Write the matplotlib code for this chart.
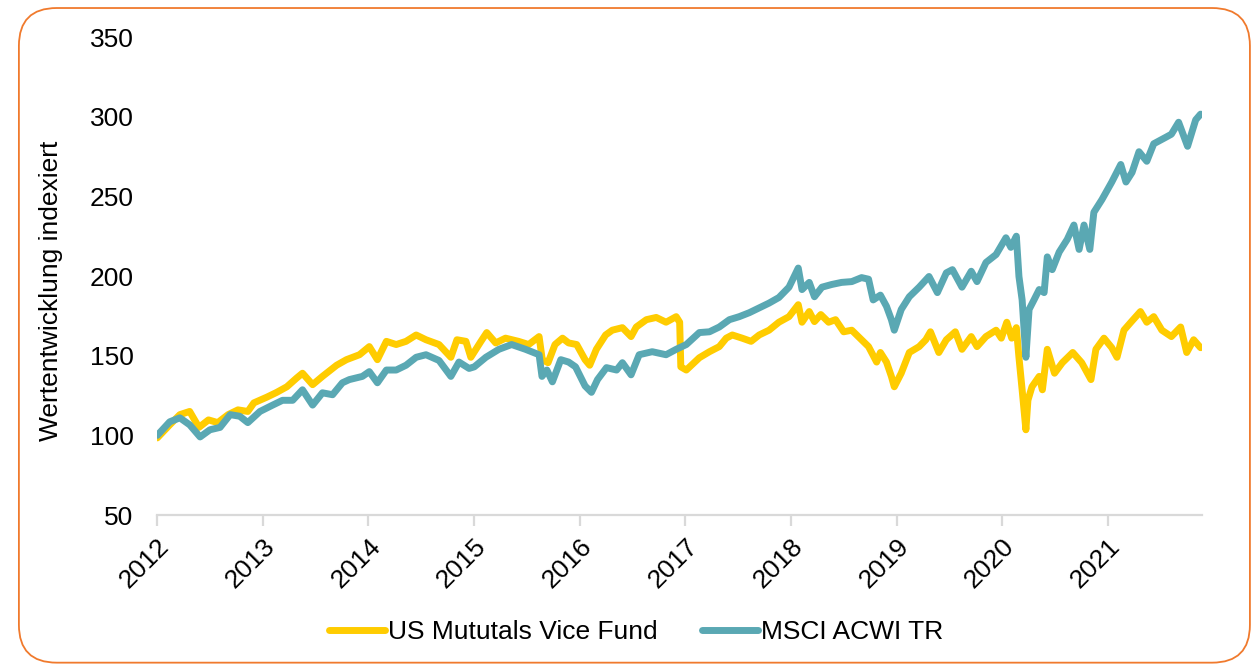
import matplotlib.pyplot as plt
import matplotlib.dates as mdates
from matplotlib.patches import FancyBboxPatch
import pandas as pd

plt.rcParams['font.family'] = ['Liberation Sans', 'DejaVu Sans']

# US Mutuals Vice Fund, indexed
fund_dates = [
    "2012-01-02", "2012-02-14", "2012-03-20", "2012-04-23", "2012-05-25", "2012-06-27",
    "2012-07-29", "2012-09-03", "2012-10-07", "2012-11-10", "2012-12-01", "2013-01-15",
    "2013-02-18", "2013-03-25", "2013-04-28", "2013-05-18", "2013-06-22", "2013-07-26",
    "2013-09-13", "2013-10-17", "2013-12-01", "2014-01-04", "2014-02-01", "2014-03-04",
    "2014-04-07", "2014-05-11", "2014-06-15", "2014-07-19", "2014-09-02", "2014-10-13",
    "2014-11-03", "2014-12-04", "2014-12-21", "2015-01-25", "2015-02-14", "2015-03-17",
    "2015-04-20", "2015-06-04", "2015-07-09", "2015-08-14", "2015-08-25", "2015-09-14",
    "2015-10-08", "2015-11-03", "2015-11-24", "2015-12-22", "2016-01-20", "2016-02-05",
    "2016-02-28", "2016-03-31", "2016-04-23", "2016-05-28", "2016-06-27", "2016-07-15",
    "2016-08-19", "2016-09-22", "2016-10-26", "2016-11-30", "2016-12-12", "2016-12-16",
    "2017-01-04", "2017-02-18", "2017-03-25", "2017-04-28", "2017-05-22", "2017-06-12",
    "2017-07-16", "2017-08-16", "2017-09-13", "2017-10-17", "2017-11-20", "2017-12-25",
    "2018-01-26", "2018-02-08", "2018-03-05", "2018-03-23", "2018-04-14", "2018-05-11",
    "2018-06-04", "2018-07-02", "2018-07-30", "2018-09-02", "2018-09-26", "2018-10-24",
    "2018-11-06", "2018-11-27", "2018-12-14", "2018-12-24", "2019-01-17", "2019-02-14",
    "2019-03-20", "2019-04-12", "2019-04-28", "2019-05-27", "2019-06-22", "2019-07-23",
    "2019-08-15", "2019-09-16", "2019-10-06", "2019-11-06", "2019-12-11", "2019-12-29",
    "2020-01-17", "2020-02-03", "2020-02-19", "2020-02-28", "2020-03-10", "2020-03-23",
    "2020-03-30", "2020-04-13", "2020-05-08", "2020-05-19", "2020-06-05", "2020-06-30",
    "2020-07-27", "2020-09-01", "2020-10-02", "2020-11-03", "2020-11-20", "2020-12-18",
    "2021-01-14", "2021-02-01", "2021-02-25", "2021-03-21", "2021-04-23", "2021-05-15",
    "2021-06-08", "2021-07-06", "2021-08-08", "2021-09-09", "2021-09-30", "2021-10-24",
    "2021-11-17",
]
fund_values = [
    98.4, 106.6, 113, 115, 105, 109.7,
    108, 113, 116, 115, 120.4, 124,
    127, 130.5, 136, 139, 131.8, 137,
    144, 147.5, 150.6, 155.7, 147.5, 159,
    157, 159, 163, 160, 157, 149,
    160, 159, 149, 159, 164.5, 158,
    161, 159, 157, 162, 147.5, 145.6,
    157, 161, 158, 157, 147.5, 144,
    154, 163, 166, 167.6, 162, 168,
    172.6, 174, 171, 174.5, 171, 143,
    141, 148.7, 152.5, 155.7, 161, 163,
    161, 159, 163, 166, 171, 174.5,
    182, 171, 177.7, 171.4, 175.8, 171,
    172.6, 165, 166, 160, 155.7, 146,
    152, 146, 137, 130.5, 139, 152,
    155.7, 160, 165, 152, 160, 165,
    154, 162, 155.7, 162, 166, 161,
    171, 161, 167.6, 149, 128.6, 103.5,
    122, 130.5, 137, 128.6, 154, 139,
    145.6, 152, 145.6, 135, 154, 161,
    155, 149, 166, 171, 177.7, 171,
    174.5, 166, 162, 168, 152, 160,
    155,
]

# MSCI ACWI TR, indexed
msci_dates = [
    "2012-01-02", "2012-02-14", "2012-03-20", "2012-04-23", "2012-05-29", "2012-07-02",
    "2012-08-06", "2012-09-10", "2012-10-13", "2012-11-10", "2012-12-22", "2013-02-04",
    "2013-03-10", "2013-04-14", "2013-05-18", "2013-06-22", "2013-07-26", "2013-08-30",
    "2013-10-03", "2013-10-27", "2013-12-11", "2014-01-04", "2014-02-01", "2014-03-04",
    "2014-04-07", "2014-05-11", "2014-06-15", "2014-07-19", "2014-09-02", "2014-10-13",
    "2014-11-10", "2014-12-15", "2015-01-02", "2015-02-11", "2015-03-28", "2015-05-11",
    "2015-06-28", "2015-08-14", "2015-08-24", "2015-09-10", "2015-09-29", "2015-10-28",
    "2015-11-24", "2015-12-18", "2016-01-20", "2016-02-11", "2016-03-03", "2016-04-03",
    "2016-05-08", "2016-05-28", "2016-06-27", "2016-07-25", "2016-09-08", "2016-10-26",
    "2016-11-30", "2017-01-04", "2017-02-18", "2017-03-25", "2017-04-28", "2017-06-02",
    "2017-07-06", "2017-08-10", "2017-09-13", "2017-10-17", "2017-11-20", "2017-12-25",
    "2018-01-26", "2018-02-08", "2018-03-05", "2018-03-23", "2018-04-18", "2018-05-22",
    "2018-06-25", "2018-07-30", "2018-09-02", "2018-09-26", "2018-10-12", "2018-11-06",
    "2018-11-27", "2018-12-14", "2018-12-24", "2019-01-17", "2019-02-14", "2019-03-20",
    "2019-04-23", "2019-05-22", "2019-06-22", "2019-07-13", "2019-08-15", "2019-09-16",
    "2019-10-06", "2019-11-06", "2019-12-11", "2020-01-14", "2020-01-31", "2020-02-19",
    "2020-02-28", "2020-03-10", "2020-03-23", "2020-04-03", "2020-04-20", "2020-05-08",
    "2020-05-25", "2020-06-05", "2020-06-22", "2020-07-16", "2020-08-13", "2020-09-05",
    "2020-09-23", "2020-10-10", "2020-10-30", "2020-11-13", "2020-12-11", "2021-01-14",
    "2021-02-14", "2021-03-04", "2021-03-25", "2021-04-18", "2021-05-15", "2021-06-08",
    "2021-07-19", "2021-08-08", "2021-09-02", "2021-10-03", "2021-10-31", "2021-11-17",
]
msci_values = [
    100, 108.5, 111, 106.6, 99, 103.5,
    105, 113, 112, 108, 115, 119,
    122, 122, 128.6, 119, 126.7, 125.5,
    133, 135, 137, 140, 133, 141,
    141, 144, 149, 150.6, 147, 137,
    146, 142, 143, 149, 154, 157,
    154, 150.6, 137, 141, 133.6, 147.5,
    146, 143, 131, 127, 135, 142.5,
    141, 145.6, 138, 150.6, 152.5, 150.6,
    154, 157, 164.5, 165, 168, 172.6,
    174.5, 177, 180, 183, 186.5, 193,
    205, 191.5, 196, 187, 193, 194.7,
    196, 196.5, 199, 198, 185, 188,
    181, 172.6, 166, 179, 187, 193,
    199.7, 189.6, 202, 204, 193, 203,
    196.5, 208.5, 213.5, 224, 218, 225,
    199.7, 185, 149, 179, 185, 191.5,
    189.6, 212, 204, 215, 223, 232,
    216.7, 232, 216.7, 240, 248, 259,
    270, 259, 265, 278, 272, 283,
    287, 289, 296.5, 281.4, 298, 301.6,
]

year_ticks = [str(y) for y in range(2012, 2022)]

fig = plt.figure(figsize=(12.6, 6.68), dpi=100)

# rounded orange frame around the chart
frame = FancyBboxPatch((0.015, 0.008), 0.977, 0.98, boxstyle="round,pad=0,rounding_size=0.03",
                       transform=fig.transFigure, facecolor='none', edgecolor='#F07A2D',
                       linewidth=1.3, mutation_aspect=1260 / 668, zorder=-1)
fig.patches.append(frame)

ax = fig.add_axes([0.1246, 0.229, 0.8294, 0.7156])
ax.set_facecolor('none')

ax.plot(pd.to_datetime(fund_dates), fund_values, color='#FFCC00', linewidth=5,
        solid_joinstyle='round', solid_capstyle='round', label='US Mututals Vice Fund')
ax.plot(pd.to_datetime(msci_dates), msci_values, color='#5AA8B3', linewidth=5,
        solid_joinstyle='round', solid_capstyle='round', label='MSCI ACWI TR')

ax.set_ylim(50, 350)
ax.set_yticks(range(50, 351, 50))
ax.set_xlim(pd.Timestamp('2012-01-01'), pd.Timestamp('2021-11-22'))
ax.set_xticks(pd.to_datetime([y + '-01-01' for y in year_ticks]))
ax.xaxis.set_major_formatter(mdates.DateFormatter('%Y'))

for side in ['left', 'right', 'top']:
    ax.spines[side].set_visible(False)
ax.spines['bottom'].set_color('#D9D9D9')
ax.spines['bottom'].set_linewidth(1.6)

ax.tick_params(axis='y', length=0, pad=17, labelsize=19)
ax.tick_params(axis='x', length=8, width=1.6, color='#D9D9D9', pad=6, labelsize=19)
for lbl in ax.get_xticklabels():
    lbl.set_rotation(45)
    lbl.set_ha('right')
    lbl.set_rotation_mode('anchor')

ax.set_ylabel('Wertentwicklung indexiert', fontsize=19)
ax.yaxis.set_label_coords(-0.09, 0.47)

fig.legend(loc='center', bbox_to_anchor=(0.505, 0.054), ncol=2, frameon=False,
           fontsize=19, handlelength=2.1, handletextpad=0.12, columnspacing=1.7)

fig.savefig('out.png', dpi=100)
